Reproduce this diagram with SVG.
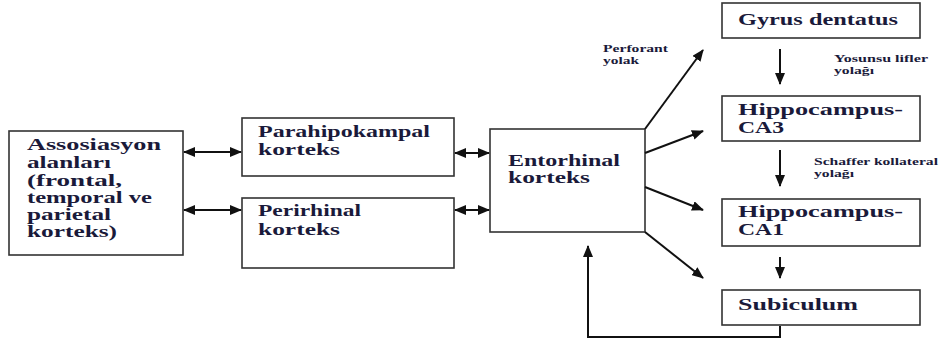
<svg xmlns="http://www.w3.org/2000/svg" width="944" height="344" viewBox="0 0 944 344">
<defs>
<marker id="ah" markerUnits="userSpaceOnUse" markerWidth="12" markerHeight="10" refX="11" refY="5" orient="auto-start-reverse">
<path d="M0,0 L12,5 L0,10 Z" fill="#111"/>
</marker>
<style>
.box{fill:#fff;stroke:#333;stroke-width:1.6}
.t{font-family:"Liberation Serif","DejaVu Serif","Times New Roman",serif;font-weight:bold;fill:#1a1a3a}
.m{font-size:16px}
.b{font-size:17px}
.s{font-size:10px}
.c{fill:none;stroke:#111;stroke-width:2}
</style>
</defs>
<rect width="944" height="344" fill="#fff"/>
<g id="assosiasyon">
<rect class="box" x="9" y="131" width="174" height="124"/>
<text class="t m" x="27" y="150" textLength="134" lengthAdjust="spacingAndGlyphs">Assosiasyon</text>
<text class="t m" x="27" y="168" textLength="84" lengthAdjust="spacingAndGlyphs">alanları</text>
<text class="t m" x="27" y="186" textLength="95" lengthAdjust="spacingAndGlyphs">(frontal,</text>
<text class="t m" x="27" y="203" textLength="125" lengthAdjust="spacingAndGlyphs">temporal ve</text>
<text class="t m" x="27" y="220" textLength="84" lengthAdjust="spacingAndGlyphs">parietal</text>
<text class="t m" x="27" y="237" textLength="90" lengthAdjust="spacingAndGlyphs">korteks)</text>
</g>
<g id="parahipokampal">
<rect class="box" x="242" y="118" width="212" height="58"/>
<text class="t m" x="258" y="137" textLength="172" lengthAdjust="spacingAndGlyphs">Parahipokampal</text>
<text class="t m" x="258" y="155" textLength="82" lengthAdjust="spacingAndGlyphs">korteks</text>
</g>
<g id="perirhinal">
<rect class="box" x="242" y="198" width="212" height="70"/>
<text class="t m" x="258" y="216" textLength="103" lengthAdjust="spacingAndGlyphs">Perirhinal</text>
<text class="t m" x="258" y="235" textLength="82" lengthAdjust="spacingAndGlyphs">korteks</text>
</g>
<g id="entorhinal">
<rect class="box" x="490" y="129" width="155" height="103"/>
<text class="t m" x="508" y="166" textLength="112" lengthAdjust="spacingAndGlyphs">Entorhinal</text>
<text class="t m" x="508" y="183" textLength="82" lengthAdjust="spacingAndGlyphs">korteks</text>
</g>
<g id="gyrus">
<rect class="box" x="722" y="3" width="198" height="35"/>
<text class="t b" x="738" y="25" textLength="160" lengthAdjust="spacingAndGlyphs">Gyrus dentatus</text>
</g>
<g id="ca3">
<rect class="box" x="722" y="96" width="198" height="45"/>
<text class="t b" x="738" y="115" textLength="165" lengthAdjust="spacingAndGlyphs">Hippocampus-</text>
<text class="t b" x="738" y="133" textLength="46" lengthAdjust="spacingAndGlyphs">CA3</text>
</g>
<g id="ca1">
<rect class="box" x="722" y="199" width="198" height="47"/>
<text class="t b" x="738" y="217" textLength="165" lengthAdjust="spacingAndGlyphs">Hippocampus-</text>
<text class="t b" x="738" y="235" textLength="46" lengthAdjust="spacingAndGlyphs">CA1</text>
</g>
<g id="subiculum">
<rect class="box" x="722" y="290" width="198" height="35"/>
<text class="t b" x="738" y="310" textLength="120" lengthAdjust="spacingAndGlyphs">Subiculum</text>
</g>
<g id="labels">
<text class="t s" x="603" y="52" textLength="65" lengthAdjust="spacingAndGlyphs">Perforant</text>
<text class="t s" x="603" y="64" textLength="36" lengthAdjust="spacingAndGlyphs">yolak</text>
<text class="t s" x="834" y="62" textLength="94" lengthAdjust="spacingAndGlyphs">Yosunsu lifler</text>
<text class="t s" x="834" y="74" textLength="40" lengthAdjust="spacingAndGlyphs">yolağı</text>
<text class="t s" x="814" y="165" textLength="124" lengthAdjust="spacingAndGlyphs">Schaffer kollateral</text>
<text class="t s" x="814" y="177" textLength="40" lengthAdjust="spacingAndGlyphs">yolağı</text>
</g>
<g id="connectors">
<line class="c" x1="184" y1="152" x2="241" y2="152" marker-start="url(#ah)" marker-end="url(#ah)"/>
<line class="c" x1="184" y1="210" x2="241" y2="210" marker-start="url(#ah)" marker-end="url(#ah)"/>
<line class="c" x1="455" y1="153" x2="489" y2="153" marker-start="url(#ah)" marker-end="url(#ah)"/>
<line class="c" x1="455" y1="210" x2="489" y2="210" marker-start="url(#ah)" marker-end="url(#ah)"/>
<line class="c" x1="645" y1="129" x2="703" y2="50" marker-end="url(#ah)"/>
<line class="c" x1="645" y1="153" x2="703" y2="131" marker-end="url(#ah)"/>
<line class="c" x1="645" y1="187" x2="703" y2="210" marker-end="url(#ah)"/>
<line class="c" x1="645" y1="232" x2="703" y2="278" marker-end="url(#ah)"/>
<line class="c" x1="780" y1="49" x2="780" y2="84" marker-end="url(#ah)"/>
<line class="c" x1="780" y1="150" x2="780" y2="186" marker-end="url(#ah)"/>
<line class="c" x1="780" y1="257" x2="780" y2="278" marker-end="url(#ah)"/>
<path class="c" d="M780,326 V337 H588 V246" marker-end="url(#ah)"/>
</g>
</svg>
